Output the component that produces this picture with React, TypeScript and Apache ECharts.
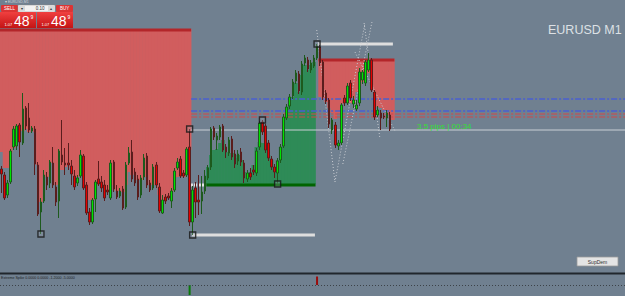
import React, { useEffect, useRef } from "react";
import * as echarts from "echarts";

const SLOTS = 206;
const slotLabels = Array.from({ length: SLOTS }, (_, i) => String(i));

// M1 candles (price)
const barOpen = [
  1.07450, 1.07444, 1.07424, 1.07437, 1.07472, 1.07473, 1.07494, 1.07476, 1.07511, 1.07501,
  1.07488, 1.07490, 1.07454, 1.07407, 1.07418, 1.07442, 1.07436, 1.07456, 1.07432, 1.07418,
  1.07464, 1.07456, 1.07456, 1.07453, 1.07443, 1.07436, 1.07443, 1.07463, 1.07434, 1.07407,
  1.07397, 1.07420, 1.07440, 1.07437, 1.07434, 1.07429, 1.07421, 1.07457, 1.07428, 1.07423,
  1.07430, 1.07412, 1.07456, 1.07467, 1.07447, 1.07440, 1.07424, 1.07442, 1.07463, 1.07436,
  1.07431, 1.07454, 1.07432, 1.07406, 1.07422, 1.07423, 1.07418, 1.07429, 1.07451, 1.07460,
  1.07446, 1.07444, 1.07472, 1.07397, 1.07431, 1.07419, 1.07418, 1.07428, 1.07441, 1.07452,
  1.07491, 1.07479, 1.07482, 1.07493, 1.07472, 1.07466, 1.07480, 1.07465, 1.07458, 1.07467,
  1.07456, 1.07440, 1.07446, 1.07449, 1.07446, 1.07472, 1.07497, 1.07493, 1.07476, 1.07460,
  1.07452, 1.07446, 1.07459, 1.07473, 1.07501, 1.07513, 1.07523, 1.07538, 1.07545, 1.07527,
  1.07556, 1.07559, 1.07549, 1.07553, 1.07561, 1.07572, 1.07557, 1.07526, 1.07519, 1.07489,
  1.07494, 1.07473, 1.07476, 1.07521, 1.07516, 1.07536, 1.07515, 1.07510, 1.07516, 1.07539,
  1.07536, 1.07549, 1.07559, 1.07527, 1.07504, 1.07506, 1.07503, 1.07501, 1.07504,
];
const barClose = [
  1.07445, 1.07421, 1.07436, 1.07468, 1.07490, 1.07493, 1.07477, 1.07510, 1.07493, 1.07489,
  1.07491, 1.07455, 1.07405, 1.07417, 1.07444, 1.07434, 1.07457, 1.07434, 1.07417, 1.07468,
  1.07457, 1.07454, 1.07454, 1.07445, 1.07432, 1.07441, 1.07464, 1.07431, 1.07406, 1.07397,
  1.07419, 1.07437, 1.07435, 1.07431, 1.07421, 1.07427, 1.07456, 1.07430, 1.07422, 1.07428,
  1.07411, 1.07454, 1.07466, 1.07440, 1.07436, 1.07422, 1.07441, 1.07461, 1.07434, 1.07429,
  1.07452, 1.07434, 1.07408, 1.07419, 1.07418, 1.07421, 1.07428, 1.07448, 1.07457, 1.07443,
  1.07443, 1.07470, 1.07397, 1.07429, 1.07417, 1.07417, 1.07427, 1.07443, 1.07451, 1.07490,
  1.07482, 1.07483, 1.07492, 1.07469, 1.07467, 1.07479, 1.07462, 1.07455, 1.07465, 1.07457,
  1.07441, 1.07446, 1.07442, 1.07447, 1.07468, 1.07496, 1.07487, 1.07469, 1.07461, 1.07452,
  1.07447, 1.07458, 1.07472, 1.07502, 1.07512, 1.07522, 1.07537, 1.07546, 1.07528, 1.07555,
  1.07561, 1.07550, 1.07556, 1.07561, 1.07573, 1.07556, 1.07522, 1.07518, 1.07495, 1.07499,
  1.07474, 1.07476, 1.07514, 1.07516, 1.07533, 1.07521, 1.07519, 1.07514, 1.07547, 1.07547,
  1.07557, 1.07559, 1.07529, 1.07502, 1.07509, 1.07501, 1.07502, 1.07506, 1.07490,
];
const barLow = [
  1.07426, 1.07419, 1.07421, 1.07435, 1.07469, 1.07469, 1.07462, 1.07474, 1.07489, 1.07486,
  1.07486, 1.07444, 1.07403, 1.07385, 1.07416, 1.07429, 1.07431, 1.07431, 1.07413, 1.07401,
  1.07454, 1.07444, 1.07449, 1.07434, 1.07429, 1.07433, 1.07441, 1.07429, 1.07404, 1.07394,
  1.07395, 1.07407, 1.07433, 1.07427, 1.07418, 1.07424, 1.07419, 1.07427, 1.07420, 1.07421,
  1.07409, 1.07410, 1.07454, 1.07437, 1.07433, 1.07419, 1.07421, 1.07439, 1.07431, 1.07427,
  1.07429, 1.07431, 1.07406, 1.07405, 1.07415, 1.07419, 1.07411, 1.07427, 1.07449, 1.07441,
  1.07441, 1.07442, 1.07393, 1.07384, 1.07401, 1.07404, 1.07405, 1.07425, 1.07439, 1.07449,
  1.07479, 1.07469, 1.07479, 1.07467, 1.07461, 1.07463, 1.07459, 1.07451, 1.07454, 1.07453,
  1.07436, 1.07437, 1.07439, 1.07444, 1.07443, 1.07469, 1.07484, 1.07466, 1.07458, 1.07449,
  1.07441, 1.07435, 1.07456, 1.07471, 1.07499, 1.07510, 1.07520, 1.07535, 1.07525, 1.07524,
  1.07553, 1.07547, 1.07546, 1.07551, 1.07559, 1.07553, 1.07519, 1.07515, 1.07491, 1.07485,
  1.07471, 1.07469, 1.07474, 1.07513, 1.07514, 1.07518, 1.07511, 1.07508, 1.07513, 1.07535,
  1.07533, 1.07547, 1.07527, 1.07499, 1.07502, 1.07489, 1.07500, 1.07492, 1.07488,
];
const barHigh = [
  1.07453, 1.07447, 1.07439, 1.07470, 1.07493, 1.07495, 1.07496, 1.07526, 1.07513, 1.07516,
  1.07493, 1.07493, 1.07457, 1.07421, 1.07449, 1.07447, 1.07459, 1.07472, 1.07437, 1.07470,
  1.07499, 1.07471, 1.07476, 1.07459, 1.07449, 1.07444, 1.07469, 1.07465, 1.07437, 1.07411,
  1.07421, 1.07439, 1.07458, 1.07443, 1.07439, 1.07434, 1.07459, 1.07459, 1.07434, 1.07431,
  1.07433, 1.07457, 1.07472, 1.07479, 1.07451, 1.07444, 1.07444, 1.07465, 1.07466, 1.07439,
  1.07455, 1.07457, 1.07436, 1.07424, 1.07425, 1.07426, 1.07431, 1.07451, 1.07461, 1.07463,
  1.07449, 1.07472, 1.07490, 1.07433, 1.07437, 1.07444, 1.07443, 1.07449, 1.07454, 1.07492,
  1.07493, 1.07486, 1.07494, 1.07495, 1.07475, 1.07482, 1.07483, 1.07469, 1.07469, 1.07471,
  1.07459, 1.07449, 1.07451, 1.07454, 1.07471, 1.07498, 1.07499, 1.07495, 1.07479, 1.07463,
  1.07455, 1.07461, 1.07475, 1.07505, 1.07515, 1.07525, 1.07540, 1.07549, 1.07548, 1.07558,
  1.07564, 1.07562, 1.07559, 1.07564, 1.07575, 1.07574, 1.07559, 1.07529, 1.07521, 1.07501,
  1.07497, 1.07479, 1.07516, 1.07524, 1.07536, 1.07539, 1.07523, 1.07519, 1.07551, 1.07549,
  1.07559, 1.07566, 1.07561, 1.07529, 1.07513, 1.07509, 1.07506, 1.07509, 1.07507,
];

// Supply / demand zones
const leftSupplyStart = 0;
const leftSupplyTop = 1.0759;
const leftSupplyFloor = [
  1.07467, 1.07451, 1.07451, 1.07466, 1.07471, 1.07491, 1.07492, 1.07488, 1.07490, 1.07487,
  1.07491, 1.07487, 1.07454, 1.07417, 1.07444, 1.07442, 1.07456, 1.07456, 1.07434, 1.07449,
  1.07449, 1.07452, 1.07454, 1.07451, 1.07443, 1.07442, 1.07451, 1.07447, 1.07434, 1.07419,
  1.07419, 1.07434, 1.07437, 1.07434, 1.07432, 1.07427, 1.07429, 1.07434, 1.07428, 1.07428,
  1.07427, 1.07434, 1.07447, 1.07444, 1.07446, 1.07439, 1.07439, 1.07442, 1.07444, 1.07434,
  1.07434, 1.07437, 1.07424, 1.07419, 1.07421, 1.07421, 1.07427, 1.07441, 1.07442, 1.07444,
  1.07442, 1.07444, 1.07469,
];
const demandStart = 68;
const demandBase = 1.07435;
const demandTop = [
  1.07452, 1.07464, 1.07469, 1.07470, 1.07476, 1.07479, 1.07467, 1.07466, 1.07466, 1.07461,
  1.07464, 1.07459, 1.07447, 1.07446, 1.07447, 1.07454, 1.07472, 1.07477, 1.07476, 1.07471,
  1.07464, 1.07459, 1.07451, 1.07459, 1.07472, 1.07489, 1.07512, 1.07514, 1.07522, 1.07536,
  1.07527, 1.07544, 1.07554, 1.07549, 1.07554, 1.07557,
];
const rightSupplyStart = 105;
const rightSupplyTop = 1.0756;
const rightSupplyFloor = [
  1.07522, 1.07520, 1.07517, 1.07511, 1.07506, 1.07500, 1.07506, 1.07515, 1.07521, 1.07528,
  1.07516, 1.07515, 1.07527, 1.07533, 1.07537, 1.07544, 1.07546, 1.07533, 1.07514, 1.07512,
  1.07511, 1.07509, 1.07507, 1.07504, 1.07499,
];

// Levels [price, fromBar, toBar]
const bidLine = [1.07489, 62.5, 205.5];
const blueLevels = [1.0752, 1.07508];
const redLevels = [1.07505, 1.07502];
const levelsFrom = 62.5;
const lowLevel = [1.07384, 62.8, 103.3];
const highLevel = [1.07575, 104.3, 129.0];
const pendingLevel = [1.07434, 62.1, 67.1];
const leftTopEdge = [1.07589, -0.5, 62.5];
const rightTopEdge = [1.07559, 104.5, 129.5];
const demandEdge = [1.07434, 67.5, 103.5];

// Dotted swing lines [bar, price, bar, price]
const swingLines = [
  [103.9, 1.07589, 109.9, 1.07437],
  [109.9, 1.07437, 119.8, 1.07596],
  [112.5, 1.07455, 122.1, 1.07597],
  [119.5, 1.07596, 124.7, 1.07481],
  [116.5, 1.07567, 129.7, 1.07488],
];

// swing markers
const markerLowBars = [13, 63, 91];
const markerHighBars = [62, 86, 104];

// Extreme Spike sub-window
const spikeBars = [62, 104];
const spikeValues = [-1.0, 0.85];

const FONT = '"Liberation Sans", Arial, sans-serif';

function zoneSeries(data: number[][], color: string) {
  return {
    type: "custom",
    xAxisIndex: 0,
    yAxisIndex: 0,
    z: 1,
    silent: true,
    encode: { x: 0, y: [1, 2] },
    data,
    renderItem: (_p: any, api: any) => {
      const x = api.value(0);
      const a = api.coord([x, api.value(1)]);
      const b = api.coord([x, api.value(2)]);
      const w = api.size([1, 0])[0];
      return {
        type: "rect",
        shape: { x: a[0] - w / 2 - 0.3, y: Math.min(a[1], b[1]), width: w + 0.6, height: Math.abs(b[1] - a[1]) },
        style: { fill: color },
      };
    },
  };
}

function hLine(level: number[], color: string, width: number, type: any, z = 3) {
  return {
    type: "line",
    xAxisIndex: 1,
    yAxisIndex: 0,
    silent: true,
    symbol: "none",
    z,
    data: [
      [level[1], level[0]],
      [level[2], level[0]],
    ],
    lineStyle: { color, width, type },
  };
}

function txt(x: number, y: number, text: string, size: number, fill: string, align = "left", weight: any = "normal") {
  return {
    type: "text",
    x,
    y,
    z: 100,
    style: {
      text,
      fill,
      fontSize: size,
      fontFamily: FONT,
      fontWeight: weight,
      textAlign: align,
      align,
      textVerticalAlign: "middle",
      verticalAlign: "middle",
    },
  };
}

export default function App() {
  const ref = useRef<HTMLDivElement>(null);
  useEffect(() => {
    if (!ref.current) return;
    const chart = echarts.init(ref.current, null, { renderer: "svg" });

    const candles = barOpen.map((o, i) => [o, barClose[i], barLow[i], barHigh[i]]);
    const leftZone = leftSupplyFloor.map((f, k) => [leftSupplyStart + k, leftSupplyTop, f]);
    const greenZone = demandTop.map((t, k) => [demandStart + k, t, demandBase]);
    const rightZone = rightSupplyFloor.map((f, k) => [rightSupplyStart + k, rightSupplyTop, f]);
    const markers = [
      ...markerLowBars.map((i) => [i, barLow[i]]),
      ...markerHighBars.map((i) => [i, barHigh[i]]),
    ];
    const spikeData = spikeBars.map((b, k) => ({
      value: [b, spikeValues[k]],
      itemStyle: { color: spikeValues[k] < 0 ? "#0a7a0a" : "#9b0b0b" },
    }));

    const redFill = "#d15d5e";
    const sellGrad = new echarts.graphic.LinearGradient(0, 0, 0, 1, [
      { offset: 0, color: "#f04040" },
      { offset: 1, color: "#c41414" },
    ]);

    const option: any = {
      animation: false,
      backgroundColor: "#708090",
      grid: [
        { left: 0, right: 0, top: 0, bottom: 23 },
        { left: 0, right: 0, top: 275, bottom: 0 },
      ],
      xAxis: [
        { type: "category", gridIndex: 0, data: slotLabels, show: false, boundaryGap: true },
        { type: "value", gridIndex: 0, min: -0.5, max: SLOTS - 0.5, show: false, splitLine: { show: false } },
        { type: "category", gridIndex: 1, data: slotLabels, show: false, boundaryGap: true },
      ],
      yAxis: [
        { type: "value", gridIndex: 0, min: 1.07346, max: 1.07619, show: false, splitLine: { show: false } },
        { type: "value", gridIndex: 1, min: -1.1, max: 1, show: false, splitLine: { show: false } },
      ],
      series: [
        zoneSeries(leftZone, redFill),
        zoneSeries(greenZone, "#2e8b57"),
        zoneSeries(rightZone, redFill),
        hLine(leftTopEdge, "#b3262a", 3, "solid", 2),
        hLine(rightTopEdge, "#b3262a", 3, "solid", 2),
        hLine(demandEdge, "#006400", 3, "solid", 2),
        hLine(bidLine, "#c9cfd5", 1, "solid"),
        ...blueLevels.map((p) => hLine([p, levelsFrom, SLOTS - 0.5], "#4a5fd0", 1.5, [6, 2, 2, 2])),
        ...redLevels.map((p) => hLine([p, levelsFrom, SLOTS - 0.5], "#d04848", 1.2, [6, 2, 2, 2])),
        hLine(lowLevel, "#dedede", 3, "solid"),
        hLine(highLevel, "#dedede", 3, "solid"),
        hLine(pendingLevel, "#e4e4e4", 3, [3, 1]),
        ...swingLines.map((s) => ({
          type: "line",
          xAxisIndex: 1,
          yAxisIndex: 0,
          silent: true,
          symbol: "none",
          z: 4,
          data: [
            [s[0], s[1]],
            [s[2], s[3]],
          ],
          lineStyle: { color: "#c8ccd2", width: 1, type: [1, 2] },
        })),
        {
          type: "candlestick",
          xAxisIndex: 0,
          yAxisIndex: 0,
          z: 5,
          barWidth: 2,
          data: candles,
          itemStyle: {
            color: "#00e400",
            color0: "#e40000",
            borderColor: "#1d5a1d",
            borderColor0: "#5a1d1d",
            borderWidth: 1,
          },
        },
        {
          type: "scatter",
          xAxisIndex: 0,
          yAxisIndex: 0,
          z: 6,
          symbol: "rect",
          symbolSize: 6,
          data: markers,
          itemStyle: { color: "rgba(160,170,180,0.35)", borderColor: "#151515", borderWidth: 1.4 },
        },
        {
          type: "bar",
          xAxisIndex: 2,
          yAxisIndex: 1,
          barWidth: 2,
          data: spikeData,
          markLine: {
            silent: true,
            symbol: "none",
            label: { show: false },
            lineStyle: { color: "#3c4248", width: 1, type: [1, 2] },
            data: [{ yAxis: 0 }],
          },
        },
      ],
      graphic: [
        { type: "line", z: 90, shape: { x1: 0, y1: 273.5, x2: 625, y2: 273.5 }, style: { stroke: "#20262c", lineWidth: 2 } },
        txt(548, 30, "EURUSD M1", 12.5, "#dde1e5"),
        txt(417, 126, "3.5 pips | 00:34", 8, "#33e033"),
        // title bar
        txt(5, 1.8, "▾ EURUSD,M1", 3.5, "#d0d6dc"),
        // one-click panel
        { type: "rect", z: 100, shape: { x: 1, y: 5, width: 17, height: 7, r: 1 }, style: { fill: "#dc3434" } },
        txt(9.5, 8.5, "SELL", 4.5, "#ffffff", "center"),
        { type: "rect", z: 100, shape: { x: 18, y: 5, width: 37, height: 7 }, style: { fill: "#f2f2f2", stroke: "#8a8a8a", lineWidth: 0.5 } },
        { type: "rect", z: 100, shape: { x: 19, y: 6, width: 6, height: 5 }, style: { fill: "#d8d8d8" } },
        { type: "rect", z: 100, shape: { x: 48, y: 6, width: 6, height: 5 }, style: { fill: "#d8d8d8" } },
        txt(22, 8.5, "▾", 4, "#333", "center"),
        txt(51, 8.5, "▴", 4, "#333", "center"),
        txt(40, 8.5, "0.10", 4.5, "#333", "center"),
        { type: "rect", z: 100, shape: { x: 56, y: 5, width: 17, height: 7, r: 1 }, style: { fill: "#dc3434" } },
        txt(64.5, 8.5, "BUY", 4.5, "#ffffff", "center"),
        { type: "rect", z: 100, shape: { x: 0, y: 12, width: 36, height: 16 }, style: { fill: sellGrad } },
        { type: "rect", z: 100, shape: { x: 37, y: 12, width: 36, height: 16 }, style: { fill: sellGrad } },
        txt(4.5, 24.5, "1.07", 4, "#ffffff"),
        txt(14, 21, "48", 14, "#ffffff"),
        txt(30.5, 16.5, "9", 5, "#ffffff"),
        txt(41.5, 24.5, "1.07", 4, "#ffffff"),
        txt(51, 21, "48", 14, "#ffffff"),
        txt(67.5, 16.5, "9", 5, "#ffffff"),
        // sub-window label
        txt(1, 278, "Extreme Spike 0.0000 0.0000 -1.2000 -5.0000", 3.6, "#1e2226"),
        // SupDem button
        { type: "rect", z: 100, shape: { x: 577, y: 257, width: 41, height: 9 }, style: { fill: "#e4e4e4", stroke: "#9a9a9a", lineWidth: 0.8 } },
        txt(597.5, 261.5, "SupDem", 5, "#303030", "center"),
      ],
    };
    chart.setOption(option);
    return () => chart.dispose();
  }, []);
  return (
    <div
      ref={ref}
      style={{ position: "absolute", left: 0, top: 0, width: 625, height: 296, background: "#708090" }}
    />
  );
}
